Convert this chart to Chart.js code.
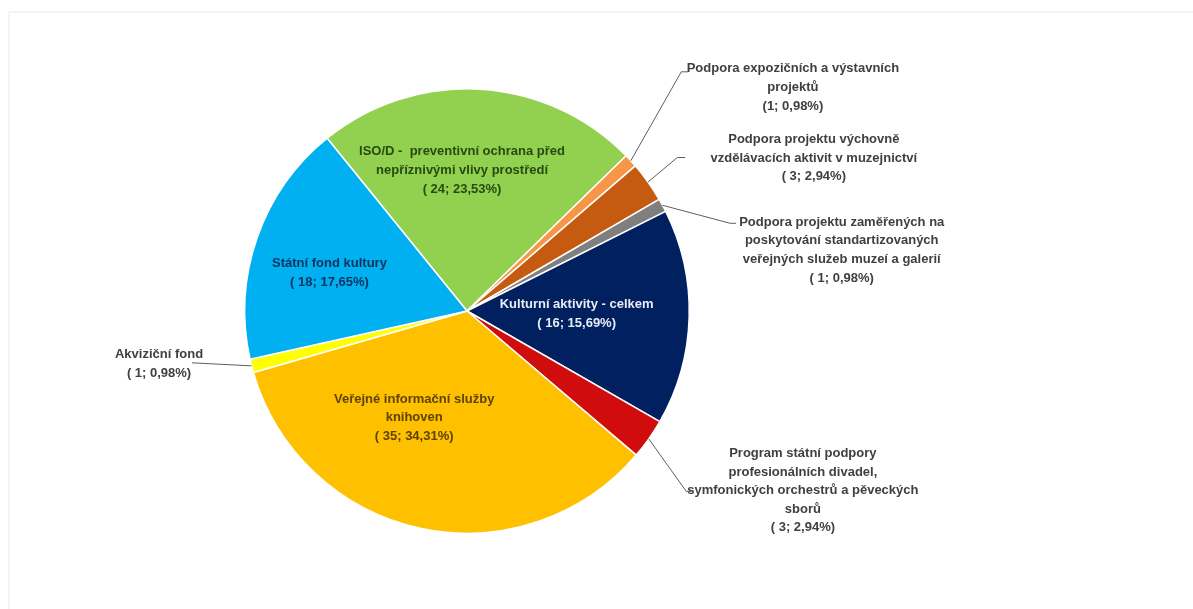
<!DOCTYPE html>
<html>
<head>
<meta charset="utf-8">
<script src="https://cdn.jsdelivr.net/npm/chart.js@4"></script>
<style>
  html, body { margin: 0; padding: 0; background: #fff; }
  #wrap { position: relative; width: 1193px; height: 609px; overflow: hidden; }
  #frame { position: absolute; left: 8px; top: 11px; width: 1400px; height: 800px;
           border-top: 2px solid #f3f3f3; border-left: 2px solid #f3f3f3; }
  canvas { position: absolute; left: 0; top: 0; }
</style>
</head>
<body>
<div id="wrap">
  <div id="frame"></div>
  <canvas id="pie" width="1193" height="609"></canvas>
</div>
<script>
/* ── DATA ── */
var categories = [
  ['ISO/D -  preventivní ochrana před', 'nepříznivými vlivy prostředí'],
  ['Podpora expozičních a výstavních', 'projektů'],
  ['Podpora projektu výchovně', 'vzdělávacích aktivit v muzejnictví'],
  ['Podpora projektu zaměřených na', 'poskytování standartizovaných', 'veřejných služeb muzeí a galerií'],
  ['Kulturní aktivity - celkem'],
  ['Program státní podpory', 'profesionálních divadel,', 'symfonických orchestrů a pěveckých', 'sborů'],
  ['Veřejné informační služby', 'knihoven'],
  ['Akviziční fond'],
  ['Státní fond kultury']
];
var counts = [24, 1, 3, 1, 16, 3, 35, 1, 18];
var sliceColors = ['#92d050', '#f79646', '#c55a11', '#7f7f7f', '#002060', '#d00c0c', '#ffc000', '#ffff00', '#00b0f0'];

/* ── LABEL LAYOUT (offsets from pie centre, px at r = 223) ── */
// inside: text centre; outside: text centre + leader elbow + leader end
var labelStyle = [
  { inside: true,  dx: -5,  dy: -141, color: '#274a12' },
  { inside: false, dx: 327, dy: -243, elbow: [215, -240], end: [222, -240], tight: true },
  { inside: false, dx: 348, dy: -172, elbow: [211, -154], end: [219, -154] },
  { inside: false, dx: 376, dy: -89,  elbow: [264, -88],  end: [270, -88] },
  { inside: true,  dx: 110, dy: 3,    color: '#e8ecf6' },
  { inside: false, dx: 337, dy: 143,  elbow: [220, 181],  end: [225, 181] },
  { inside: true,  dx: -53, dy: 107,  color: '#5c4400' },
  { inside: false, dx: -309, dy: 44,  elbow: [-276, 52],  end: [-276, 52] },
  { inside: true,  dx: -138, dy: -38, color: '#0b3560' }
];

var total = counts.reduce(function (a, b) { return a + b; }, 0);

function pctText(v) {
  return (v / total * 100).toFixed(2).replace('.', ',') + '%';
}

/* draws category + (count; share) text and leader lines */
var pieLabels = {
  id: 'pieLabels',
  afterDatasetsDraw: function (chart) {
    var ctx = chart.ctx;
    var arcs = chart.getDatasetMeta(0).data;
    var lineH = 18.6;
    ctx.save();
    ctx.font = 'bold 13px "Liberation Sans", Arial, sans-serif';
    ctx.textAlign = 'center';
    ctx.textBaseline = 'middle';

    arcs.forEach(function (arc, i) {
      var st = labelStyle[i];
      var k = arc.outerRadius / 223;
      var cx = arc.x, cy = arc.y;
      var lines = categories[i].slice();
      lines.push((st.tight ? '(' : '( ') + counts[i] + '; ' + pctText(counts[i]) + ')');

      var tx = cx + st.dx * k;
      var ty;
      if (st.inside) {
        ty = cy + st.dy * k - (lines.length - 1) * lineH / 2;
        ctx.fillStyle = st.color;
      } else {
        ty = cy + st.dy * k;
        // leader from slice edge at mid-angle
        var mid = (arc.startAngle + arc.endAngle) / 2;
        var sx = cx + Math.cos(mid) * arc.outerRadius;
        var sy = cy + Math.sin(mid) * arc.outerRadius;
        ctx.strokeStyle = '#5f5f5f';
        ctx.lineWidth = 1;
        ctx.beginPath();
        ctx.moveTo(sx, sy);
        ctx.lineTo(cx + st.elbow[0] * k, cy + st.elbow[1] * k);
        ctx.lineTo(cx + st.end[0] * k, cy + st.end[1] * k);
        ctx.stroke();
        ctx.fillStyle = '#404040';
      }
      lines.forEach(function (t, j) {
        ctx.fillText(t, tx, ty + j * lineH);
      });
    });
    ctx.restore();
  }
};

new Chart(document.getElementById('pie'), {
  type: 'pie',
  data: {
    labels: categories,
    datasets: [{
      data: counts,
      backgroundColor: sliceColors,
      borderColor: '#ffffff',
      borderWidth: 1.5
    }]
  },
  options: {
    responsive: false,
    animation: false,
    rotation: -39,
    layout: { padding: { left: 244, right: 503, top: 88, bottom: 75 } },
    plugins: {
      legend: { display: false },
      tooltip: { enabled: false }
    }
  },
  plugins: [pieLabels]
});
</script>
</body>
</html>
